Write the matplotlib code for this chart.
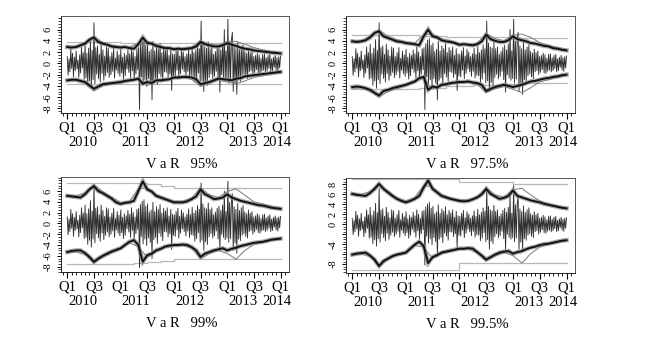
import numpy as np
import matplotlib
matplotlib.use("Agg")
import matplotlib.pyplot as plt
from matplotlib.ticker import MultipleLocator

plt.rcParams["font.family"] = ["Liberation Serif", "DejaVu Serif"]

# === Data ===
# daily returns, thinned to 5 values per month, Jan 2010 .. Dec 2013
returns = [
    1.2, -2.1, 0.8, -1.5, 2.6,   -0.9, 1.8, -2.4, 1.1, -1.3,   2.2, -1.0, 0.6, -2.5, 1.5,
    -1.7, 2.9, -0.8, 1.9, -2.8,  3.4, -2.6, 1.8, -3.9, 2.7,    -3.1, 4.2, -4.4, 2.3, -2.9,
    7.2, -3.6, 2.8, -1.9, 3.1,   -2.7, 1.6, -3.3, 3.4, -1.8,   2.4, -3.0, 1.3, -2.2, 2.9,
    -1.6, 2.7, -2.5, 1.2, -2.0,  1.9, -1.4, 2.8, -2.6, 0.9,    -1.2, 2.2, -1.8, 1.5, -2.3,
    2.5, -1.7, 1.1, -2.8, 1.8,   -2.2, 1.4, -1.0, 2.4, -1.6,   1.7, -2.6, 2.9, -1.3, 2.0,
    -2.9, 1.2, -1.9, 2.6, -1.1,  2.8, -8.2, 3.5, -2.4, 4.1,    -3.8, 4.4, -2.9, 3.2, -4.1,
    3.6, -2.7, 2.1, -3.5, 2.5,   -6.5, 3.9, -3.0, 2.2, -2.6,   3.1, -3.7, 2.6, -1.8, 3.5,
    -2.4, 1.9, -3.2, 2.8, -1.5,  2.3, -1.6, 2.9, -2.5, 1.4,    -1.9, 2.6, -4.8, 1.7, -2.2,
    1.6, -2.4, 2.2, -1.2, 2.8,   -2.7, 1.3, -1.8, 2.5, -1.0,   2.0, -1.5, 1.2, -2.3, 1.7,
    -1.4, 2.7, -2.6, 1.6, -2.1,  3.0, -2.2, 1.9, -3.3, 2.4,    -2.8, 3.3, -1.7, 2.6, -3.5,
    7.5, -3.1, 3.6, -5.0, 2.9,   -3.4, 2.7, -3.9, 3.8, -2.5,   2.6, -1.9, 2.9, -2.7, 1.6,
    -2.3, 2.1, -1.4, 2.8, -2.9,  3.2, -5.1, 2.4, -2.0, 3.4,    -2.6, 6.0, -3.0, 2.2, -2.7,
    7.8, -3.5, 3.9, -2.8, 4.2,   5.5, -5.0, 3.1, -3.6, 2.6,    -5.5, 3.7, -2.9, 2.4, -3.2,
    2.9, -2.2, 3.3, -1.9, 2.1,   -2.4, 1.8, -2.7, 2.5, -1.5,   1.9, -1.3, 2.2, -2.0, 1.2,
    -1.6, 1.4, -1.1, 1.8, -1.7,  1.5, -1.8, 0.9, -1.4, 1.6,    -1.2, 1.7, -1.5, 1.0, -1.3,
    1.4, -0.9, 1.6, -1.5, 0.8,   -1.3, 1.1, -0.7, 1.4, -1.2,   1.0, -1.4, 1.2, -0.8, 1.3,
]

# main (black) VaR bounds, one value per month, Jan 2010 .. Jan 2014
var95_up = [2.9, 2.8, 2.9, 3.2, 3.5, 4.2, 4.6, 3.8, 3.5, 3.3, 3.0, 2.9, 2.8, 2.9, 2.7, 2.6,
            3.4, 4.6, 3.6, 3.5, 3.1, 2.9, 2.7, 2.7, 2.5, 2.6, 2.5, 2.6, 2.7, 3.0, 3.8, 3.4,
            3.2, 3.0, 3.0, 3.2, 3.6, 3.3, 3.1, 2.8, 2.6, 2.5, 2.3, 2.2, 2.1, 2.0, 1.9, 1.85, 1.75]
var95_lo = [-3.0, -2.9, -2.9, -3.1, -3.3, -3.9, -4.5, -4.1, -3.7, -3.6, -3.5, -3.4, -3.3, -3.1,
            -3.0, -2.9, -2.7, -3.6, -3.3, -3.5, -3.0, -3.0, -2.9, -2.8, -2.5, -2.5, -2.4, -2.4,
            -2.5, -2.8, -3.7, -3.5, -3.3, -3.0, -2.7, -2.8, -2.9, -3.0, -2.7, -2.6, -2.3, -2.2,
            -2.1, -2.0, -1.9, -1.8, -1.7, -1.6, -1.5]
var975_up = [3.9, 3.8, 3.9, 4.1, 4.6, 5.4, 5.7, 4.8, 4.5, 4.2, 3.9, 3.8, 3.6, 3.5, 3.4, 3.2,
             4.8, 6.0, 4.8, 4.6, 4.1, 3.9, 3.8, 3.6, 3.3, 3.4, 3.3, 3.2, 3.4, 3.9, 5.1, 4.3,
             4.0, 3.8, 3.8, 4.1, 4.8, 4.3, 4.1, 3.9, 3.6, 3.5, 3.3, 3.1, 3.0, 2.7, 2.6, 2.4, 2.3]
var975_lo = [-4.2, -4.1, -4.2, -4.4, -4.7, -5.2, -5.7, -4.9, -4.7, -4.4, -4.2, -4.0, -3.8, -3.5,
             -3.2, -2.6, -2.4, -4.7, -4.1, -4.3, -3.8, -3.7, -3.5, -3.4, -3.3, -3.3, -3.2, -3.4,
             -3.5, -3.8, -4.9, -4.5, -4.2, -4.0, -3.8, -4.0, -4.2, -4.0, -3.8, -3.5, -3.2, -3.1,
             -2.9, -2.7, -2.6, -2.4, -2.3, -2.1, -2.0]
var99_up = [5.1, 5.0, 4.9, 4.8, 5.4, 6.3, 6.9, 6.0, 5.6, 5.1, 4.6, 3.9, 3.6, 3.8, 3.9, 4.2,
            6.0, 7.8, 6.3, 5.9, 5.1, 4.8, 4.5, 4.2, 3.9, 3.9, 3.9, 4.1, 4.5, 5.0, 6.3, 5.4,
            5.0, 4.5, 4.6, 4.8, 5.4, 4.8, 4.5, 4.2, 4.0, 3.8, 3.6, 3.4, 3.3, 3.1, 2.9, 2.8, 2.7]
var99_lo = [-5.3, -5.1, -5.0, -5.0, -5.5, -6.2, -7.1, -6.5, -6.0, -5.6, -5.2, -4.9, -4.6, -4.0,
            -3.4, -3.1, -4.0, -7.1, -5.9, -5.6, -5.0, -4.7, -4.3, -4.1, -4.0, -4.0, -3.9, -4.0,
            -4.4, -5.0, -6.2, -5.6, -5.3, -5.0, -4.8, -4.6, -5.0, -4.7, -4.5, -4.2, -4.0, -3.8,
            -3.6, -3.5, -3.4, -3.2, -3.0, -2.9, -2.8]
var995_up = [6.1, 5.9, 5.8, 5.7, 6.3, 7.1, 8.1, 7.1, 6.4, 5.7, 5.1, 4.7, 4.4, 4.7, 5.1, 5.7,
             7.4, 8.8, 7.1, 6.4, 5.7, 5.4, 5.1, 4.9, 4.7, 4.6, 4.7, 5.0, 5.4, 6.0, 7.1, 6.1,
             5.6, 5.1, 5.3, 5.7, 6.8, 5.7, 5.4, 5.1, 4.8, 4.6, 4.4, 4.1, 3.9, 3.7, 3.5, 3.3, 3.2]
var995_lo = [-6.1, -5.9, -5.8, -5.7, -6.3, -7.1, -8.4, -7.4, -6.9, -6.4, -6.1, -5.9, -5.7, -4.9,
             -4.1, -3.5, -4.4, -7.8, -6.6, -6.2, -5.7, -5.5, -5.3, -5.1, -4.9, -4.9, -4.8, -4.9,
             -5.6, -6.3, -7.1, -6.6, -6.1, -5.7, -5.5, -5.4, -5.9, -5.6, -5.4, -5.0, -4.7, -4.5,
             -4.2, -4.0, -3.9, -3.7, -3.5, -3.3, -3.2]

# competing models (grey), one value every two months
alt95_up = [3.1, 3.0, 3.7, 4.8, 3.7, 3.2, 3.0, 2.9, 3.6, 4.0, 3.3, 2.9, 2.7, 2.7, 2.9, 4.0,
            3.5, 3.2, 3.9, 3.9, 3.4, 2.8, 2.4, 2.1, 1.9]
alt95_lo = [-3.2, -3.1, -3.6, -4.9, -4.0, -3.7, -3.5, -3.2, -2.9, -3.9, -3.3, -3.1, -2.7, -2.6,
            -2.8, -4.1, -3.6, -3.0, -3.3, -3.6, -3.1, -2.5, -2.2, -1.9, -1.7]
alt975_up = [4.1, 4.0, 4.9, 5.9, 4.8, 4.2, 3.8, 3.6, 5.1, 5.2, 4.4, 4.0, 3.5, 3.4, 3.6, 5.3,
             4.4, 4.0, 5.0, 5.2, 4.6, 3.7, 3.2, 2.8, 2.5]
alt975_lo = [-4.4, -4.3, -5.0, -6.0, -5.0, -4.5, -4.0, -3.4, -2.6, -4.6, -4.0, -3.7, -3.5, -3.4,
             -3.7, -5.2, -4.5, -4.1, -4.6, -5.2, -4.3, -3.3, -2.9, -2.5, -2.2]
alt99_up = [5.3, 5.1, 5.7, 7.2, 5.9, 4.9, 3.9, 4.1, 6.4, 6.6, 5.4, 4.7, 4.1, 4.1, 4.7, 6.6,
            5.3, 4.8, 5.9, 6.4, 5.2, 4.0, 3.6, 3.2, 2.9]
alt99_lo = [-5.5, -5.3, -5.8, -7.4, -6.3, -5.5, -4.8, -3.6, -4.3, -6.3, -5.3, -4.5, -4.2, -4.1,
            -4.6, -6.6, -5.6, -5.0, -5.6, -6.6, -5.0, -3.9, -3.6, -3.2, -3.0]
alt995_up = [6.3, 6.0, 6.6, 8.3, 6.7, 5.4, 4.7, 5.4, 7.8, 7.5, 6.0, 5.3, 4.9, 4.9, 5.6, 7.4,
             5.9, 5.5, 7.0, 7.2, 5.9, 4.7, 4.1, 3.7, 3.4]
alt995_lo = [-6.3, -6.0, -6.5, -8.6, -7.1, -6.3, -5.9, -4.3, -4.6, -6.9, -6.0, -5.5, -5.1, -5.0,
             -5.8, -7.4, -6.4, -5.7, -6.3, -7.8, -5.9, -4.6, -4.1, -3.6, -3.4]

# unconditional VaR (light grey), one value per quarter
flat95_up = [3.8, 3.8, 3.8, 3.8, 3.7, 3.7, 3.7, 3.7, 3.7, 3.7, 3.6, 3.6, 3.6, 3.6, 3.6, 3.6, 3.6]
flat95_lo = [-3.7, -3.7, -3.7, -3.7, -3.7, -3.6, -3.6, -3.6, -3.6, -3.6, -3.6, -3.6, -3.6, -3.6,
             -3.6, -3.6, -3.6]
flat975_up = [5.1, 5.1, 5.1, 5.1, 5.0, 4.9, 4.8, 4.7, 4.7, 4.6, 4.6, 4.6, 4.5, 4.5, 4.5, 4.5, 4.5]
flat975_lo = [-4.6, -4.6, -4.6, -4.6, -4.5, -4.4, -4.3, -4.1, -4.0, -3.9, -3.8, -3.7, -3.6, -3.5,
              -3.5, -3.5, -3.5]
flat99_up = [7.5, 7.5, 7.5, 7.5, 7.5, 7.4, 7.3, 7.0, 6.6, 6.6, 6.5, 6.5, 6.5, 6.5, 6.5, 6.5, 6.5]
flat99_lo = [-7.6, -7.6, -7.6, -7.5, -7.5, -7.4, -7.2, -6.9, -6.6, -6.6, -6.6, -6.6, -6.6, -6.6,
             -6.6, -6.6, -6.6]
flat995_up = [9.0, 9.0, 9.0, 9.0, 9.0, 9.0, 9.0, 9.0, 8.5, 8.5, 8.5, 8.5, 8.0, 8.0, 8.0, 8.0, 8.0]
flat995_lo = [-9.1, -9.1, -9.1, -9.1, -9.1, -9.1, -9.1, -9.1, -7.7, -7.7, -7.7, -7.7, -7.7, -7.7,
              -7.7, -7.7, -7.7]

titles = ["V a R   95%", "V a R   97.5%", "V a R   99%", "V a R   99.5%"]
quarter_labels = ["Q1", "Q3"] * 4 + ["Q1"]
year_labels = ["2010", "2011", "2012", "2013", "2014"]

# === Figure ===
fig = plt.figure(figsize=(6.45, 3.38), dpi=100)
W, H = 645, 338
boxes = [(61, 16, 289, 113), (346, 16, 575, 113), (61, 177, 289, 272), (346, 178, 575, 273)]
ylims = [(-8.8, 8.4), (-8.8, 8.4), (-9.0, 8.6), (-9.8, 9.3)]
ytick_sets = [
    {v: str(v) for v in range(-8, 7, 2)},
    {v: str(v) for v in range(-8, 7, 2)},
    {v: str(v) for v in range(-8, 7, 2)},
    {-8: "-8", -6: "", -4: "-4", -2: "", 0: "0", 2: "2", 4: "4", 6: "6", 8: "8"},
]
series = [
    (var95_up, var95_lo, alt95_up, alt95_lo, flat95_up, flat95_lo),
    (var975_up, var975_lo, alt975_up, alt975_lo, flat975_up, flat975_lo),
    (var99_up, var99_lo, alt99_up, alt99_lo, flat99_up, flat99_lo),
    (var995_up, var995_lo, alt995_up, alt995_lo, flat995_up, flat995_lo),
]
year_x = [3.5, 15.5, 27.5, 39.5, 47.2]

t_ret = np.linspace(0, 48, len(returns))
t_mon = np.linspace(0, 48, len(var95_up))
t_alt = np.linspace(0, 48, len(alt95_up))
t_flat = np.linspace(0, 48, len(flat95_up))

for i, (x0, y0, x1, y1) in enumerate(boxes):
    ax = fig.add_axes([x0 / W, 1 - y1 / H, (x1 - x0) / W, (y1 - y0) / H])
    up, lo, aup, alo, fup, flo = series[i]

    ax.plot(t_flat, fup, color="#b8b8b8", lw=0.9, drawstyle="steps-post")
    ax.plot(t_flat, flo, color="#b8b8b8", lw=0.9, drawstyle="steps-post")
    ax.plot(t_ret, returns, color="#303030", lw=0.65)
    ax.plot(t_alt, aup, color="#7a7a7a", lw=0.7)
    ax.plot(t_alt, alo, color="#7a7a7a", lw=0.7)
    # fuzzy halo + black core for the main model
    for band in (up, lo):
        ax.plot(t_mon, band, color="#8a8a8a", lw=3.2, alpha=0.7, solid_joinstyle="miter")
        ax.plot(t_mon, band, color="#111111", lw=1.4)

    ax.set_xlim(-1.4, 49.9)
    ax.set_ylim(*ylims[i])

    ax.set_xticks(range(0, 49, 6))
    ax.set_xticklabels(quarter_labels, fontsize=10.5)
    ax.xaxis.set_minor_locator(MultipleLocator(1))
    ax.tick_params(axis="x", which="major", length=4, width=0.8, pad=2)
    ax.tick_params(axis="x", which="minor", length=2.5, width=0.6)

    ticks = ytick_sets[i]
    ax.set_yticks(list(ticks.keys()))
    ax.set_yticklabels(list(ticks.values()), fontsize=7.5, rotation=90, va="center")
    ax.yaxis.set_minor_locator(MultipleLocator(0.5))
    ax.tick_params(axis="y", which="major", length=3, width=0.7, pad=3)
    ax.tick_params(axis="y", which="minor", length=2, width=0.5)

    for s in ax.spines.values():
        s.set_linewidth(0.7)
        s.set_color("#555555")
    ax.spines["left"].set_color("#222222")
    ax.spines["bottom"].set_color("#222222")

    for xv, lab in zip(year_x, year_labels):
        ax.annotate(lab, xy=(xv, 0), xycoords=("data", "axes fraction"),
                    xytext=(0, -21), textcoords="offset points",
                    ha="center", va="center", fontsize=10.5)
    ax.annotate(titles[i], xy=(0.53, 0), xycoords="axes fraction",
                xytext=(0, -37), textcoords="offset points",
                ha="center", va="center", fontsize=10.5)

fig.savefig("out.png", dpi=100)
